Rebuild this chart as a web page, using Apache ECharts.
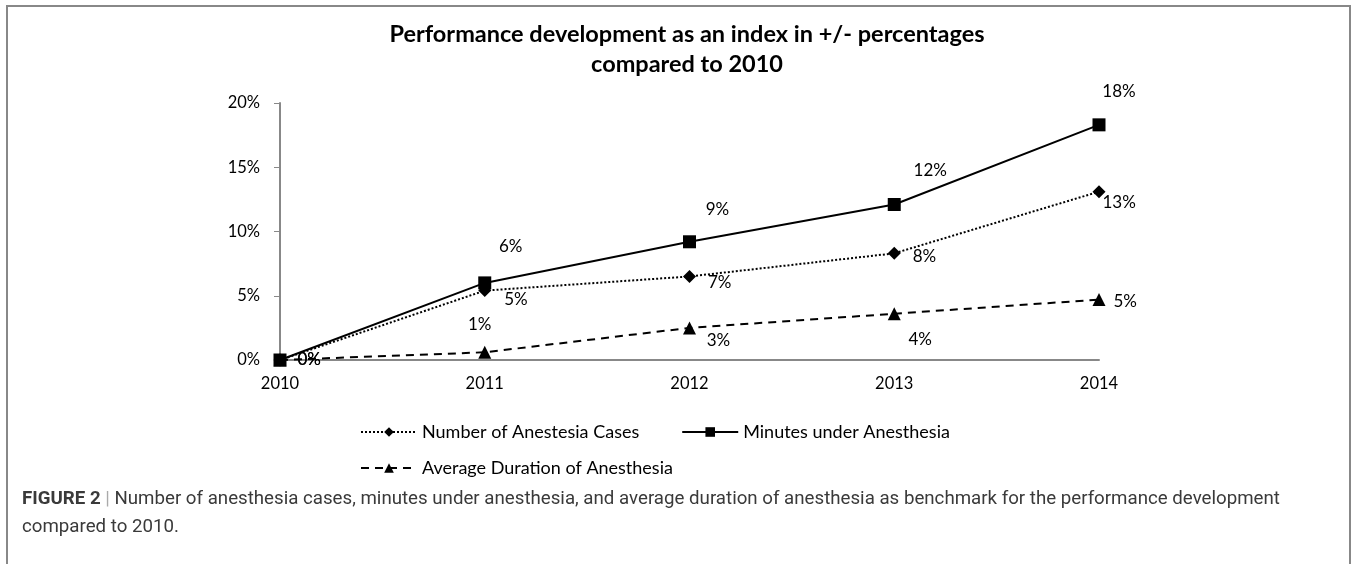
<!DOCTYPE html>
<html>
<head>
<meta charset="utf-8">
<script src="https://cdn.jsdelivr.net/npm/echarts@6/dist/echarts.min.js"></script>
<style>
  html, body { margin: 0; padding: 0; background: #fff; }
  #chart { width: 1356px; height: 564px; }
</style>
</head>
<body>
<div id="chart"></div>
<script>
// data (percent change vs 2010)
const years = ["2010", "2011", "2012", "2013", "2014"];
const casesValues = [0, 5.4, 6.5, 8.3, 13.1];
const minutesValues = [0, 6.0, 9.2, 12.1, 18.3];
const durationValues = [0, 0.6, 2.5, 3.6, 4.7];
const yTicks = [0, 5, 10, 15, 20];

const casesName = "Number of Anestesia Cases";
const minutesName = "Minutes under Anesthesia";
const durationName = "Average Duration of Anesthesia";

// label placement per point (style only)
const casesLabelOffsets = [[6, 0], [8, 9], [7, 6], [7, 3], [-8, 11]];
const minutesLabelOffsets = [null, [26, -16], [28, -12], [36, -14], [20, -13]];
const durationLabelPos = ["right", "top", "bottom", "bottom", "right"];
const durationLabelOffsets = [[6, 0], [-5, -8], [29, -7], [26, 6], [3, 2]];

const fontMain = "Lato, 'Open Sans', sans-serif";
const fontCaption = "Roboto, 'Liberation Sans', sans-serif";

let chart = echarts.init(document.getElementById("chart"));

function pct(p) {
  return Math.round(p.value) + "%";
}

let option = {
  animation: false,
  textStyle: { fontFamily: fontMain },
  title: [
    {
      text: "Performance development as an index in +/- percentages\ncompared to 2010",
      left: 682,
      textAlign: "center",
      top: 14,
      textStyle: { fontSize: 23.5, fontWeight: "bold", color: "#000", lineHeight: 30, fontFamily: fontMain }
    },
    {
      text: "{b|FIGURE 2} {s||} Number of anesthesia cases, minutes under anesthesia, and average duration of anesthesia as benchmark for the performance development\ncompared to 2010.",
      left: 17,
      top: 480,
      textStyle: {
        fontSize: 18.7,
        fontWeight: "normal",
        color: "#3a3a3a",
        lineHeight: 28,
        fontFamily: fontCaption,
        rich: {
          b: { fontWeight: "bold", fontSize: 18.7, color: "#3a3a3a", fontFamily: fontCaption, lineHeight: 28 },
          s: { color: "#aaa", fontSize: 18.7, fontFamily: fontCaption, lineHeight: 28 }
        }
      }
    }
  ],
  graphic: [
    {
      type: "rect",
      shape: { x: 7, y: 6, width: 1343, height: 600 },
      style: { fill: "none", stroke: "#888", lineWidth: 2 },
      silent: true
    }
  ],
  legend: [
    {
      data: [casesName, minutesName],
      left: 355,
      top: 418,
      itemWidth: 56,
      itemHeight: 12,
      itemGap: 42,
      textStyle: { fontSize: 18, color: "#000", fontFamily: fontMain }
    },
    {
      data: [durationName],
      left: 355,
      top: 454,
      itemWidth: 56,
      itemHeight: 12,
      textStyle: { fontSize: 18, color: "#000", fontFamily: fontMain }
    }
  ],
  grid: {
    left: 280,
    right: 257,
    top: 103,
    bottom: 204,
    containLabel: false
  },
  xAxis: {
    type: "category",
    boundaryGap: false,
    data: years,
    axisLine: { lineStyle: { color: "#888", width: 2 } },
    axisTick: { show: false },
    axisLabel: { fontSize: 16.5, color: "#000", margin: 15 },
    splitLine: { show: false }
  },
  yAxis: {
    type: "value",
    min: yTicks[0],
    max: yTicks[yTicks.length - 1],
    interval: 5,
    axisLine: { show: true, lineStyle: { color: "#888", width: 2 } },
    axisTick: { show: true, length: 6, lineStyle: { color: "#888", width: 1 } },
    axisLabel: { fontSize: 16.5, color: "#000", margin: 20, formatter: "{value}%" },
    splitLine: { show: false }
  },
  series: [
    {
      name: casesName,
      type: "line",
      data: casesValues.map(function (v, i) {
        return { value: v, label: { offset: casesLabelOffsets[i] } };
      }),
      symbol: "diamond",
      symbolSize: 13,
      z: 3,
      itemStyle: { color: "#000" },
      lineStyle: { color: "#000", width: 2, type: [2, 2] },
      label: {
        show: true,
        position: "right",
        fontSize: 17,
        color: "#000",
        formatter: pct
      }
    },
    {
      name: minutesName,
      type: "line",
      data: minutesValues.map(function (v, i) {
        if (!minutesLabelOffsets[i]) {
          return { value: v, label: { show: false } };
        }
        return { value: v, label: { show: true, offset: minutesLabelOffsets[i] } };
      }),
      symbol: "rect",
      symbolSize: 13,
      z: 4,
      itemStyle: { color: "#000" },
      lineStyle: { color: "#000", width: 2 },
      label: {
        show: true,
        position: "top",
        fontSize: 17,
        color: "#000",
        formatter: pct
      }
    },
    {
      name: durationName,
      type: "line",
      data: durationValues.map(function (v, i) {
        return {
          value: v,
          label: { position: durationLabelPos[i], offset: durationLabelOffsets[i] }
        };
      }),
      symbol: "triangle",
      symbolSize: 13,
      z: 3,
      itemStyle: { color: "#000" },
      lineStyle: { color: "#000", width: 2, type: [8, 6] },
      label: {
        show: true,
        fontSize: 17,
        color: "#000",
        formatter: pct
      }
    }
  ]
};

chart.setOption(option);
window.addEventListener("resize", function () {
  chart.resize();
});
</script>
</body>
</html>
